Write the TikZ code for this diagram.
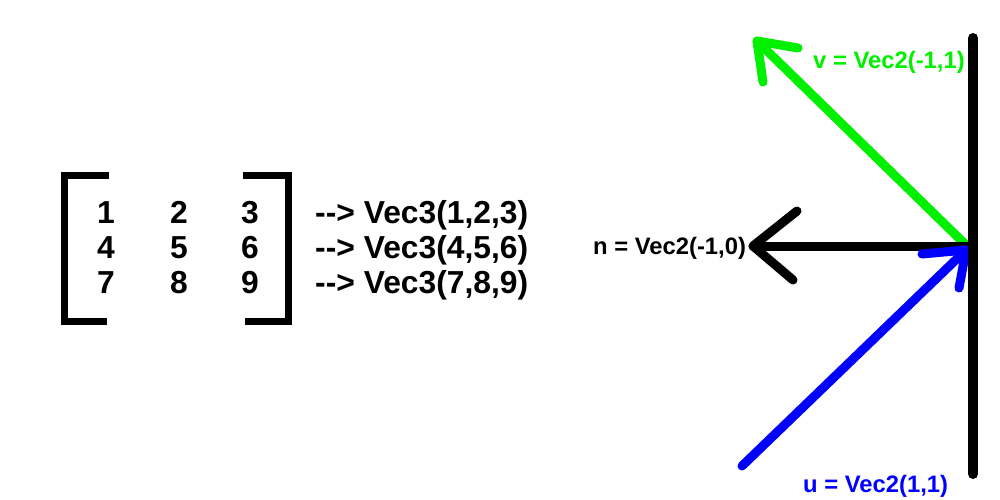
\documentclass[tikz,border=0pt]{standalone}
\usepackage{fontspec}
\setmainfont{Liberation Sans}
\definecolor{vgreen}{RGB}{0,240,0}
\definecolor{ublue}{RGB}{0,0,255}
\begin{document}
\begin{tikzpicture}[x=1pt,y=-1pt,
  bracket/.style={line width=7pt,line cap=butt,line join=miter},
  vecline/.style={line width=9pt,line cap=round,line join=round},
  big/.style={font=\bfseries\fontsize{31.8}{35}\selectfont,inner sep=0pt},
  lab/.style={font=\bfseries\fontsize{23.8}{26}\selectfont,inner sep=0pt,anchor=base west}]
\useasboundingbox[fill=white] (0,0) rectangle (1000,500);
% brackets
\draw[bracket] (109,175) -- (64,175) -- (64,321) -- (107,321);
\draw[bracket] (243,175) -- (288,175) -- (288,321) -- (245,321);
% matrix entries
\foreach \r/\y in {0/223,1/258,2/293}{
  \foreach \c/\x in {1/106,2/179,3/250}{
    \pgfmathtruncatemacro{\v}{3*\r+\c}
    \node[big,anchor=base] (m\r\c) at (\x,\y) {\v};
  }
}
\node[big,anchor=base west] (r1) at (315,223) {-{}-> Vec3(1,2,3)};
\node[big,anchor=base west] (r2) at (315,258) {-{}-> Vec3(4,5,6)};
\node[big,anchor=base west] (r3) at (315,293) {-{}-> Vec3(7,8,9)};
% vector geometry
\coordinate (o) at (967,246);
\coordinate (vt) at (757,41);
\coordinate (vw1) at (798,48);
\coordinate (vw2) at (763,82);
\coordinate (nt) at (753,246);
\coordinate (nw1) at (797,211);
\coordinate (nw2) at (793,280);
\coordinate (us) at (742,466);
\coordinate (ut) at (966,250);
\coordinate (uw1) at (922,254);
\coordinate (uw2) at (959,288);
\coordinate (wtop) at (973,38);
\coordinate (wbot) at (973,474);
% green v
\draw[vecline,vgreen] (o) -- (vt);
\draw[vecline,vgreen] (vw1) -- (vt) -- (vw2);
% black n
\draw[vecline,black] (o) -- (nt);
\draw[vecline,black] (nw1) -- (nt) -- (nw2);
% blue u
\draw[vecline,ublue] (us) -- (ut);
\draw[vecline,ublue] (uw1) -- (ut) -- (uw2);
% wall
\draw[line width=10pt,line cap=round] (wtop) -- (wbot);
% labels
\node[lab,text=vgreen] (vl) at (813,69) {v = Vec2(-1,1)};
\node[lab] (nl) at (593,254) {n = Vec2(-1,0)};
\node[lab,text=ublue] (ul) at (803,492) {u = Vec2(1,1)};
\end{tikzpicture}
\end{document}
